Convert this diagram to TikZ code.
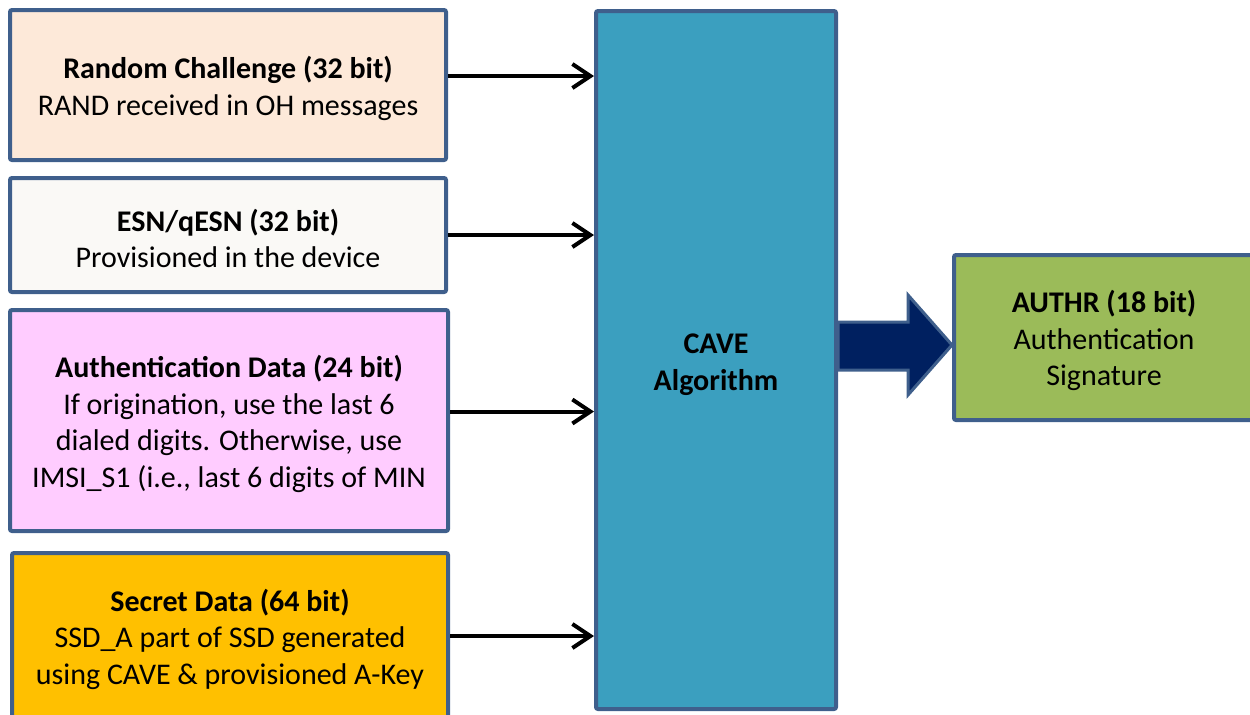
\documentclass[tikz,border=0pt]{standalone}
\usepackage{fontspec}
\setmainfont{Carlito}
\definecolor{edge}{RGB}{63, 95, 140}
\definecolor{randFill}{RGB}{253, 233, 217}
\definecolor{esnFill}{RGB}{250, 249, 246}
\definecolor{authFill}{RGB}{255, 204, 255}
\definecolor{secretFill}{RGB}{255, 192, 0}
\definecolor{caveFill}{RGB}{59, 159, 191}
\definecolor{outFill}{RGB}{155, 187, 89}
\definecolor{bigArrow}{RGB}{0, 32, 96}
\usetikzlibrary{arrows.meta, positioning, calc}
\newcommand{\topstrut}{\rule{0pt}{14.5pt}}

\begin{document}
\begin{tikzpicture}[x=0.5pt, y=-0.5pt,
    box/.style={draw=edge, line width=2pt, rounded corners=1pt, align=center,
                font=\fontsize{15}{18.25}\selectfont, inner sep=0pt},
    feed/.style={-{Straight Barb[length=9pt, width=12pt]}, line width=2pt, black}]
                \useasboundingbox (0,0) rectangle (1250,714);

                % Input boxes
                \node[box, fill=randFill, minimum width=218pt, minimum height=75pt]
                    (rand) at (228,85) {\topstrut\textbf{Random Challenge (32 bit)}\\RAND received in OH messages};
                \node[box, fill=esnFill, minimum width=218pt, minimum height=57pt]
                    (esn) at (228,235) {\topstrut\textbf{ESN/qESN (32 bit)}\\Provisioned in the device};
                \node[box, fill=authFill, minimum width=219pt, minimum height=110.5pt]
                    (auth) at (229,420.5) {\topstrut\textbf{Authentication Data (24 bit)}\\If origination, use the last 6\\dialed digits. Otherwise, use\\IMSI\_S1 (i.e., last 6 digits of MIN};
                \node[box, fill=secretFill, minimum width=218pt, minimum height=83pt]
                    (secret) at (230,636) {\topstrut\textbf{Secret Data (64 bit)}\\SSD\_A part of SSD generated\\using CAVE \& provisioned A-Key};

                % Algorithm and output
                \node[box, fill=caveFill, minimum width=120pt, minimum height=349pt]
                    (cave) at (716,360) {\topstrut\textbf{CAVE}\\\textbf{Algorithm}};
                \node[box, fill=outFill, minimum width=150pt, minimum height=82.5pt]
                    (authr) at (1104,337.5) {\topstrut\textbf{AUTHR (18 bit)}\\Authentication\\Signature};

                % Inputs into CAVE
                \coordinate (in1) at ([yshift=4.5pt]rand.east);
                \coordinate (in2) at (esn.east);
                \coordinate (in3) at ([yshift=4.5pt]auth.east);
                \coordinate (in4) at (secret.east);
                \foreach \i in {1,...,4}
                    \draw[feed] (in\i) -- (in\i -| cave.west);

                % Output arrow
                \draw[draw=edge, line width=1.5pt, fill=bigArrow, line join=miter]
                    ($(cave.east)+(0,-38)$) -- (908,322) -- (908,295) -- (authr.west |- 0,345)
                    -- (908,395) -- (908,370) -- ($(cave.east)+(0,10)$) -- cycle;
\end{tikzpicture}
\end{document}
